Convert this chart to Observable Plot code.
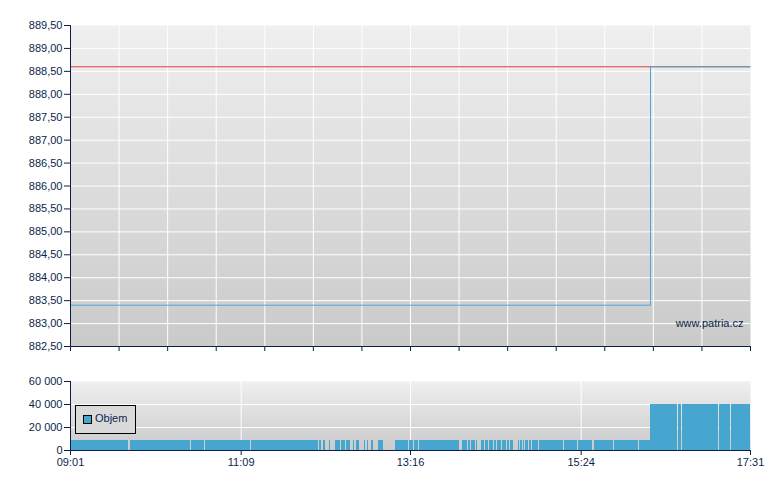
<!DOCTYPE html>
<html>
<head>
<meta charset="utf-8">
<script src="https://cdn.jsdelivr.net/npm/d3@7"></script>
<script src="https://cdn.jsdelivr.net/npm/@observablehq/plot@0.6"></script>
<style>
  html, body { margin: 0; padding: 0; background: #fff; }
  #wrap { position: relative; width: 780px; height: 490px; font-family: "Liberation Sans", Arial, sans-serif; }
  #wrap svg { display: block; position: absolute; left: 0; }
  #legend { position: absolute; left: 75px; top: 405px; width: 59px; height: 27px; border: 1px solid #000; background: #dadada; box-sizing: content-box; }
  #legend .sw { position: absolute; left: 7px; top: 9px; width: 7px; height: 7px; border: 1px solid #000; background: #46a6cf; }
  #legend .lb { position: absolute; left: 19px; top: 6px; font-size: 11px; color: #0b1f4a; line-height: 13px; }
</style>
</head>
<body>
<svg width="0" height="0" style="position:absolute">
  <defs>
    <linearGradient id="bg" x1="0" y1="0" x2="0" y2="1">
      <stop offset="0" stop-color="#efefef"/>
      <stop offset="1" stop-color="#cacaca"/>
    </linearGradient>
  </defs>
</svg>
<div id="wrap">
  <div id="legend"><div class="sw"></div><div class="lb">Objem</div></div>
</div>
<script>
// ---------- data ----------
const dayStart = "09:01";
const dayEnd = "17:31";

// price (step line)
const priceTimes = ["09:01", "16:16", "17:31"];
const priceValues = [883.40, 888.60, 888.60];
const prevClose = 888.60;

// price axis ticks
const priceTicks = [882.5, 883.0, 883.5, 884.0, 884.5, 885.0, 885.5, 886.0, 886.5, 887.0, 887.5, 888.0, 888.5, 889.0, 889.5];

// volume bars
const volStart = ["09:01:00","09:46:00","10:31:45","10:42:15","11:16:45","12:08:00","12:10:30","12:15:15","12:19:45","12:22:15",
  "12:24:00","12:27:50","12:33:00","12:35:15","12:41:15","12:43:30","12:46:30","12:52:00","13:04:45","13:15:15",
  "13:19:15","13:22:45","13:55:00","13:59:15","14:01:45","14:05:30","14:09:15","14:12:15","14:15:00","14:17:00",
  "14:19:00","14:21:00","14:25:00","14:28:30","14:31:00","14:36:45","14:38:30","14:40:45","14:42:30","14:45:00",
  "14:47:30","14:52:30","14:54:15","15:11:30","15:21:45","15:34:00","15:49:00","16:07:30",
  "16:16:00","16:37:00","16:40:00","17:07:45","17:16:30"];
const volEnd = ["09:44:30","10:31:00","10:41:30","11:16:00","12:07:00","12:09:15","12:12:15","12:16:20","12:21:40","12:23:30",
  "12:27:15","12:31:00","12:34:00","12:37:45","12:42:15","12:44:45","12:48:00","12:55:45","13:14:30","13:18:30",
  "13:22:15","13:52:45","13:58:45","14:01:15","14:04:30","14:06:15","14:11:45","14:14:30","14:16:30","14:18:30",
  "14:20:30","14:24:15","14:27:45","14:30:30","14:33:00","14:38:00","14:40:00","14:41:45","14:44:30","14:46:45",
  "14:52:00","14:54:00","15:10:45","15:21:00","15:32:45","15:48:00","16:06:45","16:15:45",
  "16:36:00","16:39:00","17:06:45","17:15:45","17:31:00"];
const volValues = [8700,8700,8700,8700,8700,8700,8700,8700,8700,8700,
  8700,8700,8700,8700,8700,8700,8700,8700,8700,8700,
  8700,8700,8700,8700,8700,8700,8700,8700,8700,8700,
  8700,8700,8700,8700,8700,8700,8700,8700,8700,8700,
  8700,8700,8700,8700,8700,8700,8700,8700,
  40000,40000,40000,40000,40000];

const volTicks = [0, 20000, 40000, 60000];
const timeTickLabels = ["09:01", "11:09", "13:16", "15:24", "17:31"];
const watermark = "www.patria.cz";

// ---------- helpers ----------
const T = s => { const [h, m, sec = 0] = s.split(":").map(Number); return new Date(2000, 0, 1, h, m, sec); };
const t0 = T(dayStart), t1 = T(dayEnd);
const navy = "#0b1f4a";
const blue = "#46a6cf";
const lineBlue = "#4aa7d8";
const red = "#e83c3c";
const font = "'Liberation Sans', Arial, sans-serif";

const price = priceTimes.map((t, i) => ({t: T(t), p: priceValues[i]}));
const vol = volStart.map((s, i) => ({s: T(s), e: T(volEnd[i]), v: volValues[i]}));
const topTicks = d3.range(15).map(i => new Date(+t0 + i * (t1 - t0) / 14));
const bottomTicks = timeTickLabels.map(T);

const fmtPrice = d => d.toFixed(2).replace(".", ",");
const fmtVol = d => d3.format(",")(d).replace(/,/g, " ");

// ---------- top chart ----------
const topPlot = Plot.plot({
  width: 780, height: 360,
  marginTop: 25, marginBottom: 14, marginLeft: 70, marginRight: 30,
  style: {fontFamily: font, fontSize: "11px", color: navy, background: "transparent"},
  x: {type: "time", domain: [t0, t1]},
  y: {domain: [priceTicks[0], priceTicks[priceTicks.length - 1]]},
  marks: [
    Plot.frame({fill: "url(#bg)", stroke: null}),
    Plot.gridY(priceTicks.slice(1, -1), {stroke: "#fff", strokeOpacity: 1, strokeWidth: 1}),
    Plot.gridX(topTicks.slice(1, -1), {stroke: "#fff", strokeOpacity: 1, strokeWidth: 1}),
    Plot.ruleY([prevClose], {stroke: red, strokeWidth: 1}),
    Plot.line(price, {x: "t", y: "p", curve: "step-after", stroke: lineBlue, strokeWidth: 1}),
    Plot.text([watermark], {frameAnchor: "bottom-right", textAnchor: "end", lineAnchor: "middle", dx: -7, dy: -23, fill: navy, fontSize: 11}),
    Plot.axisY(priceTicks, {tickFormat: fmtPrice, tickSize: 6, tickPadding: 2, label: null, fill: navy, stroke: navy}),
    Plot.axisX(topTicks, {tickFormat: () => "", tickSize: 5, label: null, stroke: navy}),
    Plot.ruleX([t0], {stroke: navy}),
    Plot.ruleY([priceTicks[0]], {stroke: navy})
  ]
});
topPlot.style.top = "0px";

// ---------- bottom chart ----------
const botPlot = Plot.plot({
  width: 780, height: 130,
  marginTop: 21, marginBottom: 40, marginLeft: 70, marginRight: 30,
  style: {fontFamily: font, fontSize: "11px", color: navy, background: "transparent"},
  x: {type: "time", domain: [t0, t1]},
  y: {domain: [volTicks[0], volTicks[volTicks.length - 1]]},
  marks: [
    Plot.frame({fill: "url(#bg)", stroke: null}),
    Plot.gridY(volTicks.slice(1, -1), {stroke: "#fff", strokeOpacity: 1, strokeWidth: 1}),
    Plot.gridX(bottomTicks.slice(1, -1), {stroke: "#fff", strokeOpacity: 1, strokeWidth: 1}),
    Plot.rectY(vol, {x1: "s", x2: "e", y: "v", fill: blue, shapeRendering: "crispEdges"}),
    Plot.axisY(volTicks, {tickFormat: fmtVol, tickSize: 6, tickPadding: 2, label: null, fill: navy, stroke: navy}),
    Plot.axisX(bottomTicks, {tickFormat: (d, i) => timeTickLabels[i], tickSize: 5, tickPadding: 3, label: null, fill: navy, stroke: navy}),
    Plot.ruleX([t0], {stroke: navy}),
    Plot.ruleY([volTicks[0]], {stroke: navy})
  ]
});
botPlot.style.top = "360px";

const wrap = document.getElementById("wrap");
wrap.insertBefore(topPlot, wrap.firstChild);
wrap.insertBefore(botPlot, wrap.firstChild.nextSibling);
</script>
</body>
</html>
